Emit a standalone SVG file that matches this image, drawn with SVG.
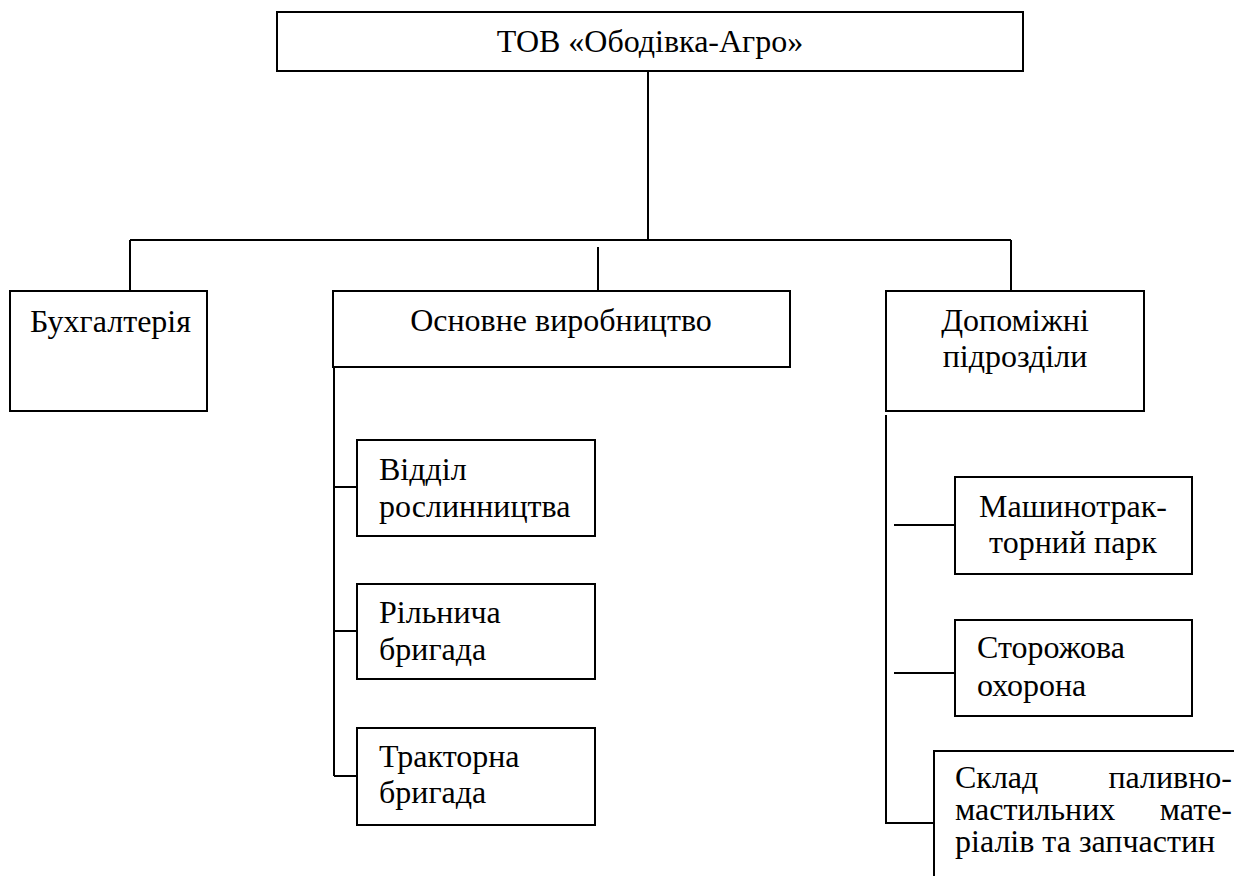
<svg xmlns="http://www.w3.org/2000/svg" width="1234" height="876" viewBox="0 0 1234 876">
<style>
.box{fill:#fff;stroke:#000;stroke-width:2}
.ln{fill:none;stroke:#000;stroke-width:2}
text{font-family:'Liberation Serif','DejaVu Serif',serif;font-size:32px;fill:#000}
.c{text-anchor:middle}
.e{text-anchor:end}
</style>
<rect width="1234" height="876" fill="#fff"/>
<g id="connectors">
<path class="ln" d="M648 71V240M130 240H1011M130 240V291M1011 240V291M598 247V298"/>
<path class="ln" d="M334 343V776M334 487H357M334 631H382M334 776H357"/>
<path class="ln" d="M886 415V823H934M894 525H955M894 673H955"/>
</g>
<g id="n-top"><rect class="box" x="277" y="12" width="746" height="59"/><text class="c" x="650" y="52">ТОВ «Ободівка-Агро»</text></g>
<g id="n-buh"><rect class="box" x="10" y="291" width="197" height="120"/><text x="30" y="332">Бухгалтерія</text></g>
<g id="n-osn"><rect class="box" x="333" y="291" width="457" height="76"/><text class="c" x="561" y="331">Основне виробництво</text></g>
<g id="n-dop"><rect class="box" x="886" y="291" width="258" height="120"/><text class="c" x="1015" y="331">Допоміжні</text><text class="c" x="1015" y="367">підрозділи</text></g>
<g id="n-rosl"><rect class="box" x="357" y="440" width="238" height="96"/><text x="379" y="480">Відділ</text><text x="379" y="517">рослинництва</text></g>
<g id="n-riln"><rect class="box" x="357" y="584" width="238" height="95"/><text x="379" y="623">Рільнича</text><text x="379" y="660">бригада</text></g>
<g id="n-trak"><rect class="box" x="357" y="728" width="238" height="97"/><text x="379" y="767">Тракторна</text><text x="379" y="803">бригада</text></g>
<g id="n-mtp"><rect class="box" x="955" y="477" width="237" height="97"/><text class="c" x="1073" y="517">Машинотрак-</text><text class="c" x="1073" y="553">торний парк</text></g>
<g id="n-stor"><rect class="box" x="955" y="620" width="237" height="96"/><text x="977" y="658">Сторожова</text><text x="977" y="696">охорона</text></g>
<g id="n-sklad"><path class="ln" d="M934 878V751H1234"/><text y="788"><tspan x="955">Склад</tspan><tspan x="1232" text-anchor="end">паливно-</tspan></text><text y="820"><tspan x="955">мастильних</tspan><tspan x="1232" text-anchor="end">мате-</tspan></text><text x="955" y="852">ріалів та запчастин</text></g>
</svg>
